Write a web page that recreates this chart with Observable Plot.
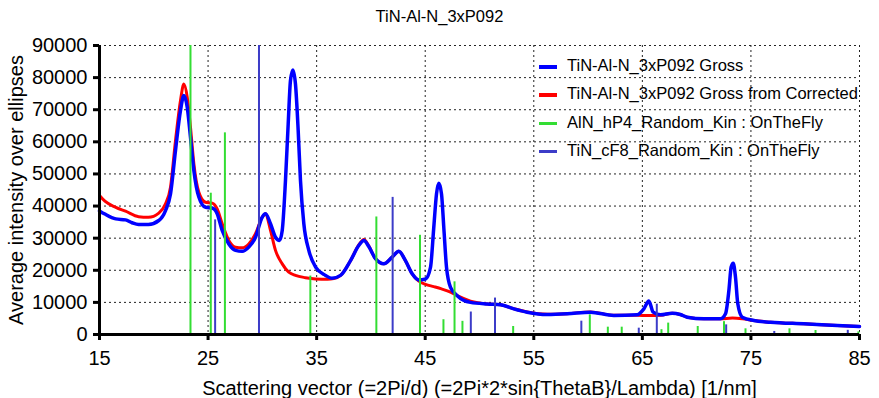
<!DOCTYPE html>
<html>
<head>
<meta charset="utf-8">
<script src="https://cdn.jsdelivr.net/npm/d3@7"></script>
<script src="https://cdn.jsdelivr.net/npm/@observablehq/plot@0.6"></script>
<style>
  body { margin: 0; background: #fff; font-family: "Liberation Sans", Arial, sans-serif; }
  #wrap { position: relative; width: 879px; height: 398px; overflow: hidden; }
  #title { position: absolute; left: 0; top: 0; width: 879px; height: 32px; line-height: 32px; text-align: center; font-size: 16.5px; color: #000; }
  #chart { position: absolute; left: 0; top: 30px; }
  .lg { position: absolute; left: 539px; height: 20px; line-height: 20px; font-size: 16.5px; color: #000; white-space: nowrap; }
  .lg span.sw { display: inline-block; width: 18px; vertical-align: middle; margin-right: 10px; }
</style>
</head>
<body>
<div id="wrap">
  <div id="title">TiN-Al-N_3xP092</div>
  <div id="chart"></div>
  <div id="legend"></div>
</div>
<script>
// ---- data ----
const titleText = "TiN-Al-N_3xP092";
const xLabel = "Scattering vector (=2Pi/d) (=2Pi*2*sin{ThetaB}/Lambda) [1/nm]";
const yLabel = "Average intensity over ellipses";
const seriesNames = ["TiN-Al-N_3xP092 Gross", "TiN-Al-N_3xP092 Gross from Corrected", "AlN_hP4_Random_Kin : OnTheFly", "TiN_cF8_Random_Kin : OnTheFly"];
const xTicks = [15, 25, 35, 45, 55, 65, 75, 85];
const yTicks = [0, 10000, 20000, 30000, 40000, 50000, 60000, 70000, 80000, 90000];

const grossX = [15.0, 15.5, 16.5, 17.4, 18.0, 18.6, 19.5, 20.46, 21.08, 21.54, 22.0, 22.46, 22.77, 23.08, 23.38, 23.69, 24.15, 24.76, 25.38, 25.84, 26.3, 26.91, 27.53, 28.14, 28.75, 29.37, 29.98, 30.29, 30.75, 31.21, 31.58, 31.83, 32.13, 32.38, 32.59, 32.81, 33.05, 33.3, 33.51, 33.82, 34.28, 34.9, 35.82, 36.4, 37.2, 38.12, 38.88, 39.35, 39.8, 40.42, 41.19, 41.96, 42.57, 43.18, 43.8, 44.41, 45.03, 45.49, 45.79, 46.04, 46.25, 46.5, 46.71, 46.96, 47.33, 47.95, 49.17, 50.71, 51.93, 53.16, 54.39, 56.23, 58.08, 60.22, 62.37, 64.52, 65.14, 65.6, 66.0, 66.67, 67.75, 68.5, 69.13, 70.67, 72.2, 72.66, 72.97, 73.18, 73.37, 73.58, 73.79, 74.2, 75.27, 76.8, 79.87, 82.94, 85.0];
const grossY = [38500, 37500, 36000, 35700, 34800, 34250, 34250, 35500, 38600, 43800, 57300, 69750, 74400, 70800, 61400, 51100, 42800, 39600, 39400, 37600, 32400, 28200, 26200, 25900, 27200, 30300, 36500, 37600, 34500, 30300, 29300, 32400, 48000, 65600, 79100, 82400, 78000, 63500, 48000, 34500, 26200, 21000, 18400, 17500, 18400, 23000, 27700, 29300, 27400, 23600, 22000, 24100, 25900, 23000, 18900, 17000, 17300, 21000, 33400, 43800, 47100, 43800, 33400, 21000, 14700, 12100, 10000, 9500, 9300, 8000, 6950, 6230, 6440, 6950, 5920, 6130, 8000, 10400, 6950, 6130, 6650, 6230, 5400, 4900, 4900, 6440, 13700, 21000, 22200, 17800, 9560, 5400, 4360, 3830, 3320, 2800, 2500];

const corrX = [15.0, 15.5, 16.5, 17.4, 18.6, 19.5, 20.46, 21.08, 21.54, 22.0, 22.46, 22.77, 23.08, 23.38, 23.69, 24.15, 24.76, 25.38, 25.84, 26.3, 26.91, 27.53, 28.14, 28.75, 29.37, 29.98, 30.29, 30.75, 31.21, 31.83, 32.43, 33.05, 33.97, 34.9, 36.0, 36.58, 37.2, 38.12, 38.88, 39.35, 39.8, 40.42, 41.19, 41.96, 42.57, 43.18, 43.8, 44.41, 45.03, 45.79, 46.5, 47.33, 47.95, 49.17, 50.71, 51.93, 53.16, 54.39, 56.23, 58.08, 60.22, 62.37, 64.52, 65.6, 66.67, 67.75, 68.5, 69.13, 70.67, 72.2, 73.3, 74.2, 75.27, 76.8, 79.87, 82.94, 85.0];
const corrY = [43300, 41500, 39600, 38400, 36700, 36500, 37800, 40700, 45900, 60400, 72900, 78000, 73900, 64600, 53200, 44300, 41200, 40900, 39100, 34500, 29300, 27200, 27000, 28200, 31400, 36500, 37600, 32400, 26200, 22000, 19400, 18400, 17700, 17300, 17200, 17400, 18400, 23000, 27900, 29600, 27600, 23600, 22000, 24100, 25900, 23000, 18900, 16600, 15600, 14900, 14200, 13200, 12100, 10400, 9500, 9300, 8000, 7000, 6300, 6500, 7000, 6000, 6000, 5900, 6000, 6650, 6230, 5400, 4900, 4900, 5100, 4900, 4360, 3830, 3320, 2800, 2500];

const alnPos = [23.38, 25.25, 26.55, 34.42, 40.5, 44.52, 46.68, 47.7, 48.43, 53.1, 60.16, 61.82, 63.1, 66.76, 67.38, 70.1, 72.52, 74.5, 78.55, 80.95, 84.9];
const alnInt = [90000, 44000, 62800, 18200, 36600, 30900, 4600, 16400, 4100, 2500, 6130, 2280, 2280, 1500, 3550, 2500, 4000, 1770, 1770, 1250, 800];

const tinPos = [25.65, 29.69, 42.0, 49.2, 51.43, 59.38, 64.67, 66.33, 72.72, 77.15, 83.92];
const tinInt = [35700, 90000, 42700, 7000, 11350, 4150, 1970, 9450, 3000, 950, 1300];

const colors = ["#0000ff", "#ff0000", "#33dd33", "#3c3cc8"];

// ---- tables ----
const gross = grossX.map((x, i) => ({x, y: grossY[i]}));
const corr = corrX.map((x, i) => ({x, y: corrY[i]}));
const aln = alnPos.map((x, i) => ({x, y: alnInt[i]}));
const tin = tinPos.map((x, i) => ({x, y: tinInt[i]}));

const grid = {stroke: "#222", strokeOpacity: 1, strokeDasharray: "2,3", strokeWidth: 1};

const chart = Plot.plot({
  width: 879,
  height: 368,
  marginLeft: 99,
  marginRight: 20,
  marginTop: 15,
  marginBottom: 64,
  style: {fontFamily: "'Liberation Sans', Arial, sans-serif", background: "#fff", color: "#000", overflow: "visible"},
  x: {domain: [15, 85]},
  y: {domain: [0, 90000]},
  marks: [
    Plot.gridY(yTicks.filter(d => d > 0), grid),
    Plot.gridX(xTicks.filter(d => d > 15), grid),
    Plot.line(corr, {x: "x", y: "y", stroke: colors[1], strokeWidth: 3, curve: "monotone-x"}),
    Plot.line(gross, {x: "x", y: "y", stroke: colors[0], strokeWidth: 3.5, curve: "monotone-x"}),
    Plot.ruleX(aln, {x: "x", y1: 0, y2: "y", stroke: colors[2], strokeWidth: 2}),
    Plot.ruleX(tin, {x: "x", y1: 0, y2: "y", stroke: colors[3], strokeWidth: 2}),
    Plot.axisY({ticks: yTicks, tickSize: 6, tickPadding: 6, fontSize: 20, strokeWidth: 3, tickFormat: d3.format("d"), label: null}),
    Plot.axisX({ticks: xTicks, tickSize: 6, tickPadding: 10, fontSize: 20, strokeWidth: 3, tickFormat: d3.format("d"), label: null}),
    Plot.ruleY([0], {stroke: "#000", strokeWidth: 3}),
    Plot.ruleX([15], {stroke: "#000", strokeWidth: 3}),
    Plot.text([xLabel], {frameAnchor: "bottom", dy: 54, fontSize: 20, lineAnchor: "middle", textAnchor: "middle", fill: "#000"}),
    Plot.text([yLabel], {frameAnchor: "left", dx: -83, rotate: -90, fontSize: 20, lineAnchor: "middle", textAnchor: "middle", fill: "#000"})
  ]
});
document.getElementById("chart").appendChild(chart);

// ---- legend ----
const lgY = [65, 93, 122, 150];
const swH = [4, 4, 2.5, 2.5];
const legend = document.getElementById("legend");
seriesNames.forEach((name, i) => {
  const d = document.createElement("div");
  d.className = "lg";
  d.style.top = (lgY[i] - 10) + "px";
  const sw = document.createElement("span");
  sw.className = "sw";
  sw.style.height = swH[i] + "px";
  sw.style.background = colors[i];
  d.appendChild(sw);
  d.appendChild(document.createTextNode(name));
  legend.appendChild(d);
});
</script>
</body>
</html>
